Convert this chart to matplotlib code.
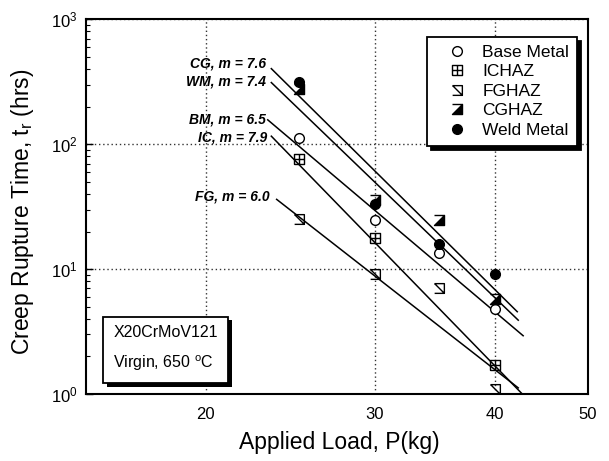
import numpy as np
import matplotlib
matplotlib.use("Agg")
import matplotlib.pyplot as plt
from matplotlib.path import Path
from matplotlib import patheffects
from matplotlib.ticker import FixedLocator, NullLocator, LogLocator, NullFormatter

plt.rcParams["font.family"] = ["Liberation Sans", "DejaVu Sans"]
plt.rcParams["mathtext.fontset"] = "custom"
plt.rcParams["mathtext.rm"] = "Liberation Sans"
plt.rcParams["mathtext.it"] = "Liberation Sans:italic"

# data
loads = [25, 30, 35, 40]
base_metal = [113, 24.7, 13.5, 4.8]
ichaz = [76, 17.6, np.nan, 1.7]
fghaz = [25, 9.2, 7.0, 1.1]
cghaz = [275, 36, 24.7, 5.8]
weld_metal = [315, 33, 16, 9.2]

# power-law fits t = t30 * (P/30)^-m
fit_names = ["CG", "WM", "BM", "IC", "FG"]
fit_m = [7.6, 7.4, 6.5, 7.9, 6.0]
fit_t30 = [61, 49.6, 29.5, 16.3, 8.8]
fit_start = [23.4, 23.4, 23.2, 23.4, 23.7]
fit_end = [42.2, 42.3, 42.8, 42.8, 42.3]

# label offsets (points) from each fit line start
label_offsets = [(-3.6, 3.6), (-3.6, 0.7), (-1.4, 0.5), (-2.6, -1.3), (-4.8, 2.4)]

# custom marker glyphs
square_plus = Path(
    [(-1, -1), (1, -1), (1, 1), (-1, 1), (-1, -1), (0, -1), (0, 1), (-1, 0), (1, 0)],
    [Path.MOVETO, Path.LINETO, Path.LINETO, Path.LINETO, Path.LINETO,
     Path.MOVETO, Path.LINETO, Path.MOVETO, Path.LINETO])
z_box = Path(
    [(-1, 1), (1, 1), (1, -1), (-1, -1), (-1, 1), (1, -1)],
    [Path.MOVETO, Path.LINETO, Path.LINETO, Path.LINETO, Path.MOVETO, Path.LINETO])
half_tri = Path(
    [(-1, -1), (1, -1), (1, 1), (-1, -1), (-1, 1), (1, 1)],
    [Path.MOVETO, Path.LINETO, Path.LINETO, Path.CLOSEPOLY, Path.MOVETO, Path.LINETO])

fig = plt.figure(figsize=(6.09, 4.61), dpi=100)
ax = fig.add_axes([0.141, 0.1453, 0.8245, 0.8127])
ax.set_xscale("log")
ax.set_yscale("log")
ax.set_xlim(15, 50)
ax.set_ylim(1, 1000)

# fit lines and labels
for name, m, t30, p0, p1, off in zip(fit_names, fit_m, fit_t30, fit_start, fit_end, label_offsets):
    p = np.array([p0, p1])
    t = t30 * (p / 30.0) ** (-m)
    ax.plot(p, t, color="black", lw=1.1, zorder=3)
    ax.annotate(f"{name}, m = {m:.1f}", xy=(p[0], t[0]), xytext=off,
                textcoords="offset points", ha="right", va="center",
                fontsize=10, fontweight="bold", fontstyle="italic")

ms = 7
ax.plot(loads, base_metal, ls="none", marker="o", ms=ms, mfc="white", mec="black",
        mew=1.0, label="Base Metal", zorder=4)
ax.plot(loads, ichaz, ls="none", marker=square_plus, ms=ms, mfc="none", mec="black",
        mew=1.0, label="ICHAZ", zorder=4)
ax.plot(loads, fghaz, ls="none", marker=z_box, ms=ms, mfc="none", mec="black",
        mew=1.0, label="FGHAZ", zorder=4)
ax.plot(loads, cghaz, ls="none", marker=half_tri, ms=ms, mfc="black", mec="black",
        mew=1.0, label="CGHAZ", zorder=4)
ax.plot(loads, weld_metal, ls="none", marker="o", ms=ms, mfc="black", mec="black",
        label="Weld Metal", zorder=4)

# axes styling
ax.xaxis.set_major_locator(FixedLocator([20, 30, 40, 50]))
ax.xaxis.set_major_formatter(plt.FuncFormatter(lambda v, _: f"{v:.0f}"))
ax.xaxis.set_minor_locator(NullLocator())
ax.yaxis.set_major_locator(LogLocator(base=10, numticks=10))
ax.yaxis.set_minor_locator(LogLocator(base=10, subs=np.arange(2, 10), numticks=10))
ax.yaxis.set_minor_formatter(NullFormatter())
ax.tick_params(axis="x", which="both", length=0, pad=9, labelsize=12)
ax.tick_params(axis="y", which="major", direction="in", length=5, width=1, pad=6, labelsize=12)
ax.tick_params(axis="y", which="minor", direction="in", length=3, width=0.8)
for s in ax.spines.values():
    s.set_linewidth(1.5)
ax.grid(True, which="major", ls=(0, (1, 2)), color="#333333", lw=1.0)

ax.set_xlabel("Applied Load, P(kg)", fontsize=16.5)
ax.set_ylabel(r"Creep Rupture Time, t$_{\rm r}$ (hrs)", fontsize=16.5)
ax.xaxis.set_label_coords(0.504, -0.1)
ax.yaxis.set_label_coords(-0.1, 0.485)

leg = ax.legend(loc="upper right", bbox_to_anchor=(0.978, 0.953), fontsize=12.5,
                frameon=True, fancybox=False, edgecolor="black", framealpha=1,
                labelspacing=0.25, handlelength=2.6, handletextpad=0.15,
                borderpad=0.45, borderaxespad=0,
                shadow={"color": "black", "alpha": 1, "ox": 3, "oy": -3})
leg.get_frame().set_linewidth(1.3)

txt = ax.text(0.159, 0.12, "X20CrMoV121\nVirgin, 650 $^{\\rm o}$C", transform=ax.transAxes,
              ha="center", va="center", multialignment="left", fontsize=11.5,
              linespacing=1.9, zorder=5,
              bbox=dict(boxstyle="square,pad=0.65", fc="white", ec="black", lw=1.3))
txt.get_bbox_patch().set_path_effects([
    patheffects.SimplePatchShadow(offset=(2.5, -2.5), shadow_rgbFace="black", alpha=1),
    patheffects.Normal()])

fig.savefig("out.png", dpi=100)
